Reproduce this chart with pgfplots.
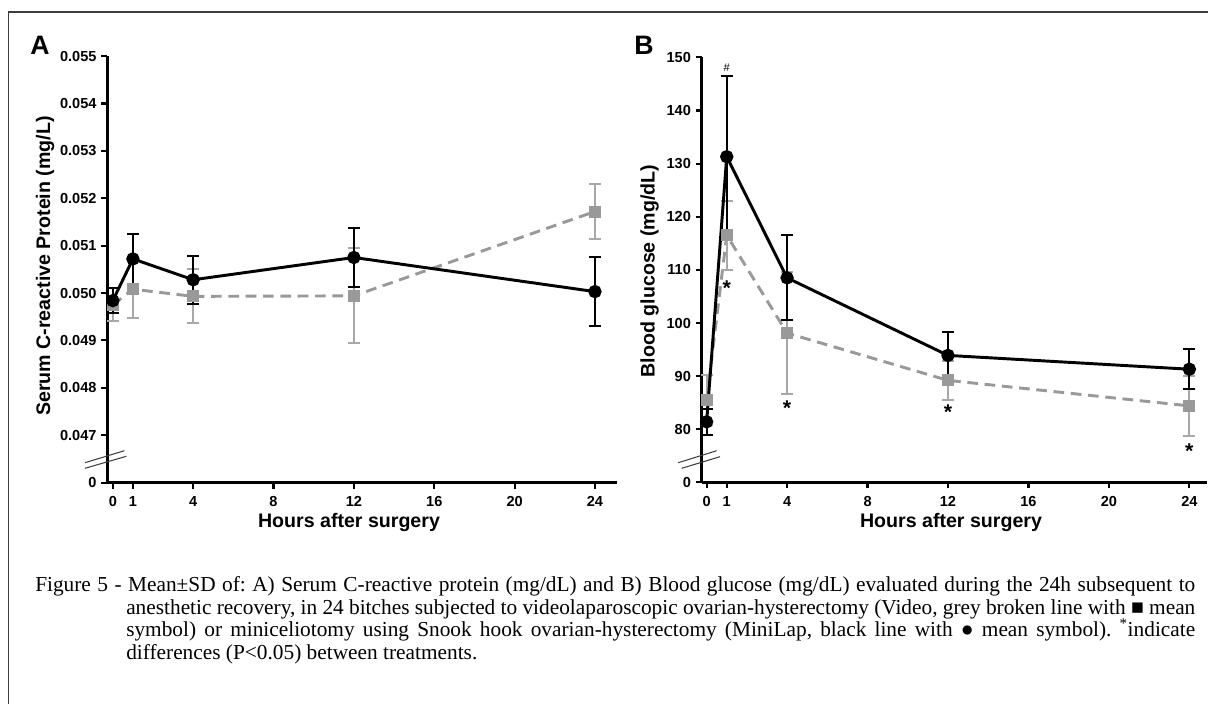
\documentclass[border=0pt]{standalone}
\usepackage{fontspec}
\setmainfont{Liberation Serif}
\newfontfamily\chartfont{Liberation Sans}
\usepackage{pgfplots}
\pgfplotsset{compat=1.18}

\definecolor{videogrey}{HTML}{999999}
\definecolor{videoerr}{HTML}{A8A8A8}
\definecolor{framegrey}{HTML}{3C3C3C}

\pgfplotsset{
  panel/.style={
    scale only axis,
    axis x line=bottom, axis y line=left,
    axis line style={line width=2.2pt,-},
    tick align=outside,
    major tick length=4.5pt,
    tick style={line width=1.6pt,black},
    xtick={0,1,4,8,12,16,20,24},
    minor tick num=0,
    scaled y ticks=false,
    clip=false,
    ticklabel style={font=\chartfont\bfseries\fontsize{10.9}{12}\selectfont},
    xticklabel style={yshift=-2.5pt},
    /pgf/number format/assume math mode=true,
  },
  minilap/.style={
    black, line width=2.2pt, mark=*, mark size=3.9pt,
    mark options={solid, fill=black},
    error bars/y dir=both, error bars/y explicit,
    error bars/error bar style={solid, line width=1.5pt, black},
    error bars/error mark options={rotate=90, solid, mark size=4.5pt, line width=1.5pt, black},
  },
  video/.style={
    videogrey, line width=2.2pt, dash pattern=on 8pt off 5pt,
    mark=square*, mark size=3.4pt,
    mark options={solid, fill=videogrey, draw=videogrey},
    error bars/y dir=both, error bars/y explicit,
    error bars/error bar style={solid, line width=1.5pt, videoerr},
    error bars/error mark options={rotate=90, solid, mark size=4.5pt, line width=1.5pt, videoerr},
  },
}
\tikzset{signif/.style={font=\chartfont\bfseries\fontsize{16}{16}\selectfont, yshift=-3.4pt}}

\begin{document}
\begin{tikzpicture}
\path[use as bounding box] (0,0) rectangle (906pt,528pt);

% ---- A: C-reactive protein
\begin{axis}[panel, at={(80.4pt,166.05pt)}, anchor=south west,
  width=382.1pt, height=319.9pt,
  xmin=-0.28, xmax=25.08, ymin=0.046, ymax=0.055,
  ytick={0.046,0.047,0.048,0.049,0.050,0.051,0.052,0.053,0.054,0.055},
  yticklabels={0,0.047,0.048,0.049,0.050,0.051,0.052,0.053,0.054,0.055},
]
\addplot[video] table[x=x, y=y, y error=e] {
x  y       e
0  0.04975 0.00035
1  0.05008 0.00061
4  0.04993 0.00057
12 0.04994 0.00100
24 0.05172 0.00059
};
\addplot[minilap] table[x=x, y=y, y error=e] {
x  y       e
0  0.04984 0.00027
1  0.05072 0.00053
4  0.05028 0.00051
12 0.05075 0.00062
24 0.05003 0.00073
};
\end{axis}

% ---- B: blood glucose
\begin{axis}[panel, at={(526.2pt,166.2pt)}, anchor=south west,
  width=379.4pt, height=318.8pt,
  xmin=-0.25, xmax=24.9, ymin=70, ymax=150,
  ytick={70,80,90,100,110,120,130,140,150},
  yticklabels={0,80,90,100,110,120,130,140,150},
]
\addplot[video] table[x=x, y=y, y error=e] {
x  y     e
0  85.5  4.7
1  116.5 6.5
4  98.1  11.5
12 89.2  3.6
24 84.4  5.7
};
\addplot[minilap] table[x=x, y=y, y error=e] {
x  y     e
0  81.4  2.4
1  131.3 15.2
4  108.5 8.0
12 93.9  4.4
24 91.3  3.8
};
\node[signif] at (axis cs:1,107.5) {*};
\node[signif] at (axis cs:4,84.8) {*};
\node[signif] at (axis cs:12,84.0) {*};
\node[signif] at (axis cs:24,76.7) {*};
\node[font=\chartfont\fontsize{8.3}{9}\selectfont] at (axis cs:1,148) {\#};
\end{axis}

\begin{scope}[x=0.75pt, y=-0.75pt, yshift=528pt]
\draw[framegrey, line width=1.1pt] (8.3,704) -- (8.3,12) -- (1208,12);

% axis breaks
\begin{scope}[line width=0.8pt, black!75]
\draw (85,462.7) -- (124.4,450.7);
\draw (85,468.3) -- (126.3,456.3);
\draw (678.3,462.7) -- (716.7,450.7);
\draw (681.7,468.3) -- (720,456.7);
\end{scope}

% panel letters and axis titles
\node[anchor=base west, inner sep=0pt, font=\chartfont\bfseries\fontsize{20}{20}\selectfont] at (30,55) {A};
\node[anchor=base west, inner sep=0pt, font=\chartfont\bfseries\fontsize{20}{20}\selectfont] at (634,55) {B};
\node[rotate=90, font=\chartfont\bfseries\fontsize{14.7}{16}\selectfont] at (45,266) {Serum C-reactive Protein (mg/L)};
\node[rotate=90, font=\chartfont\bfseries\fontsize{14.7}{16}\selectfont] at (649.5,271) {Blood glucose (mg/dL)};
\node[anchor=base, inner sep=0pt, font=\chartfont\bfseries\fontsize{14.7}{16}\selectfont] at (349,528) {Hours after surgery};
\node[anchor=base, inner sep=0pt, font=\chartfont\bfseries\fontsize{14.7}{16}\selectfont] at (951,528) {Hours after surgery};

% caption, one justified box per line as in the reference
\begin{scope}[every node/.style={anchor=base west, inner sep=0pt,
    font=\fontsize{16}{17}\selectfont\frenchspacing}]
\node at (35,591.4) {\hbox to 870pt{Figure 5 - Mean±SD of: A) Serum C-reactive protein (mg/dL) and B) Blood glucose (mg/dL) evaluated during the 24h subsequent to}};
\node at (126,614.2) {\hbox to 801.75pt{anesthetic recovery, in 24 bitches subjected to videolaparoscopic ovarian-hysterectomy (Video, grey broken line with ■ mean}};
\node at (126,637) {\hbox to 801.75pt{symbol) or miniceliotomy using Snook hook ovarian-hysterectomy (MiniLap, black line with ● mean symbol). \textsuperscript{*}indicate}};
\node at (126,659.8) {differences (P<0.05) between treatments.};
\end{scope}
\end{scope}
\end{tikzpicture}
\end{document}
